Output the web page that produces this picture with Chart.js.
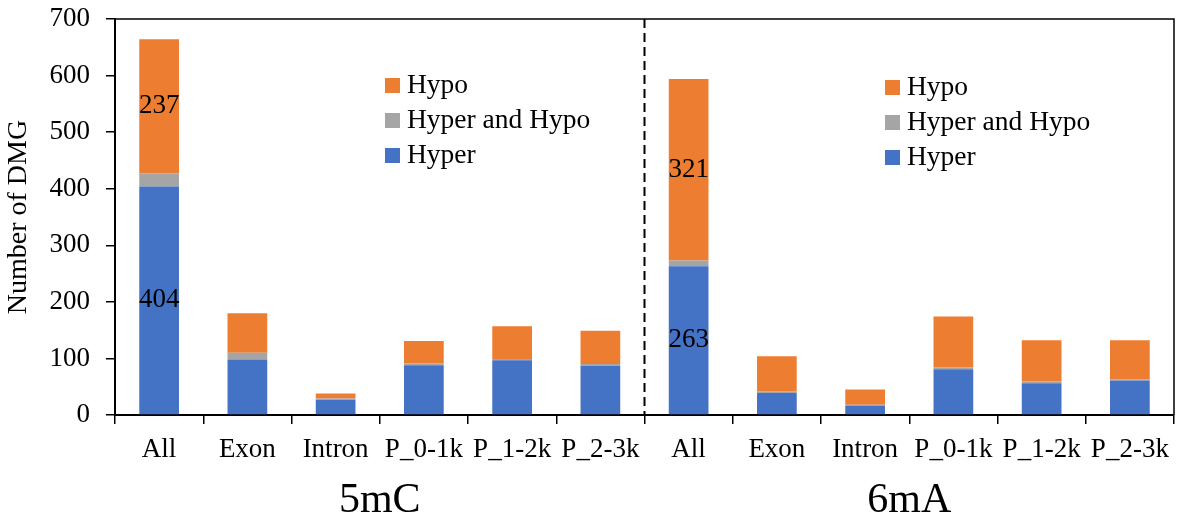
<!DOCTYPE html>
<html>
<head>
<meta charset="utf-8">
<title>DMG</title>
<script src="https://cdn.jsdelivr.net/npm/chart.js@4.4.0/dist/chart.umd.min.js"></script>
<style>
  html, body { margin: 0; padding: 0; background: #fff; }
  #wrap { width: 1181px; height: 528px; position: relative; }
</style>
</head>
<body>
<div id="wrap"><canvas id="myChart"></canvas></div>
<script>
// Categories (two groups of six)
const categories = ['All', 'Exon', 'Intron', 'P_0-1k', 'P_1-2k', 'P_2-3k',
                    'All', 'Exon', 'Intron', 'P_0-1k', 'P_1-2k', 'P_2-3k'];
const groupNames = ['5mC', '6mA'];

// Series values
const hyper      = [404, 98, 27, 88, 97, 87,   263, 39, 16, 81, 56, 61];
const hyperHypo  = [23, 12, 2, 3, 2, 3,        10, 3, 2, 3, 3, 2];
const hypo       = [237, 70, 9, 40, 58, 59,    321, 62, 27, 90, 73, 69];

// y axis ticks
const yMax = 700;
const yStep = 100;

// only the "All" bars carry numbers
const labelledCats = [0, 6];

const serif = "'Liberation Serif', 'Times New Roman', serif";
const ctx = document.getElementById('myChart').getContext('2d');

// Draws the frame, the dashed divider, the group names, the numbers and both legends
const extras = {
    id: 'extras',
    afterDatasetsDraw(chart) {
        const c = chart.ctx;
        const area = chart.chartArea;
        const x = chart.scales.x;

        c.save();
        // top and right frame
        c.strokeStyle = '#000';
        c.lineWidth = 1.5;
        c.beginPath();
        c.moveTo(area.left, area.top);
        c.lineTo(area.right, area.top);
        c.lineTo(area.right, area.bottom);
        c.stroke();

        // dashed divider between the groups
        const mid = (x.getPixelForValue(5) + x.getPixelForValue(6)) / 2;
        c.setLineDash([9, 5]);
        c.lineWidth = 2;
        c.beginPath();
        c.moveTo(mid, area.top);
        c.lineTo(mid, area.bottom);
        c.stroke();
        c.setLineDash([]);

        // group names under the axis
        c.fillStyle = '#000';
        c.font = '42px ' + serif;
        c.textAlign = 'center';
        c.textBaseline = 'alphabetic';
        groupNames.forEach((g, i) => {
            const cx = (x.getPixelForValue(i * 6) + x.getPixelForValue(i * 6 + 5)) / 2;
            c.fillText(g, cx, 512);
        });

        // numbers inside the All bars
        c.font = '27px ' + serif;
        c.textBaseline = 'middle';
        [0, 2].forEach(di => {
            const meta = chart.getDatasetMeta(di);
            labelledCats.forEach(ci => {
                const bar = meta.data[ci];
                c.fillText(chart.data.datasets[di].data[ci], bar.x, (bar.y + bar.base) / 2);
            });
        });

        // the two legends
        const order = [2, 1, 0];
        const spots = [{ x: 385, y: 85 }, { x: 885, y: 87 }];
        c.font = '27.5px ' + serif;
        c.textAlign = 'left';
        spots.forEach(s => {
            order.forEach((di, row) => {
                const ds = chart.data.datasets[di];
                const yy = s.y + row * 35;
                c.fillStyle = ds.backgroundColor;
                c.fillRect(s.x, yy - 7, 15, 15);
                c.fillStyle = '#000';
                c.fillText(ds.label, s.x + 22, yy + 1);
            });
        });
        c.restore();
    }
};

const stockChart = new Chart(ctx, {
    type: 'bar',
    data: {
        labels: categories,
        datasets: [
            { label: 'Hyper', data: hyper, backgroundColor: '#4472C4' },
            { label: 'Hyper and Hypo', data: hyperHypo, backgroundColor: '#A5A5A5' },
            { label: 'Hypo', data: hypo, backgroundColor: '#ED7D31' }
        ]
    },
    options: {
        responsive: true,
        maintainAspectRatio: false,
        animation: false,
        datasets: { bar: { categoryPercentage: 1, barPercentage: 0.45 } },
        layout: { padding: { top: 0, right: 7, left: 0, bottom: 0 } },
        scales: {
            x: {
                stacked: true,
                grid: { display: true, drawOnChartArea: false, tickLength: 9, color: '#000', lineWidth: 1.5 },
                border: { display: true, color: '#000', width: 2 },
                ticks: { color: '#000', font: { family: serif, size: 27 }, padding: 10, maxRotation: 0, autoSkip: false },
                afterFit: s => { s.height = 113; }
            },
            y: {
                stacked: true,
                min: 0,
                max: yMax,
                grid: { display: true, drawOnChartArea: false, tickLength: 9, color: '#000', lineWidth: 1.5 },
                border: { display: true, color: '#000', width: 2 },
                ticks: { stepSize: yStep, color: '#000', font: { family: serif, size: 27 }, padding: 16 },
                title: { display: true, text: 'Number of DMG', color: '#000', font: { family: serif, size: 28 }, padding: { top: 2, bottom: 0 } },
                afterFit: s => { s.width = 115; s.paddingTop = 19; s.paddingBottom = 0; }
            }
        },
        plugins: {
            legend: { display: false },
            tooltip: { enabled: false }
        }
    },
    plugins: [extras]
});
</script>
</body>
</html>
